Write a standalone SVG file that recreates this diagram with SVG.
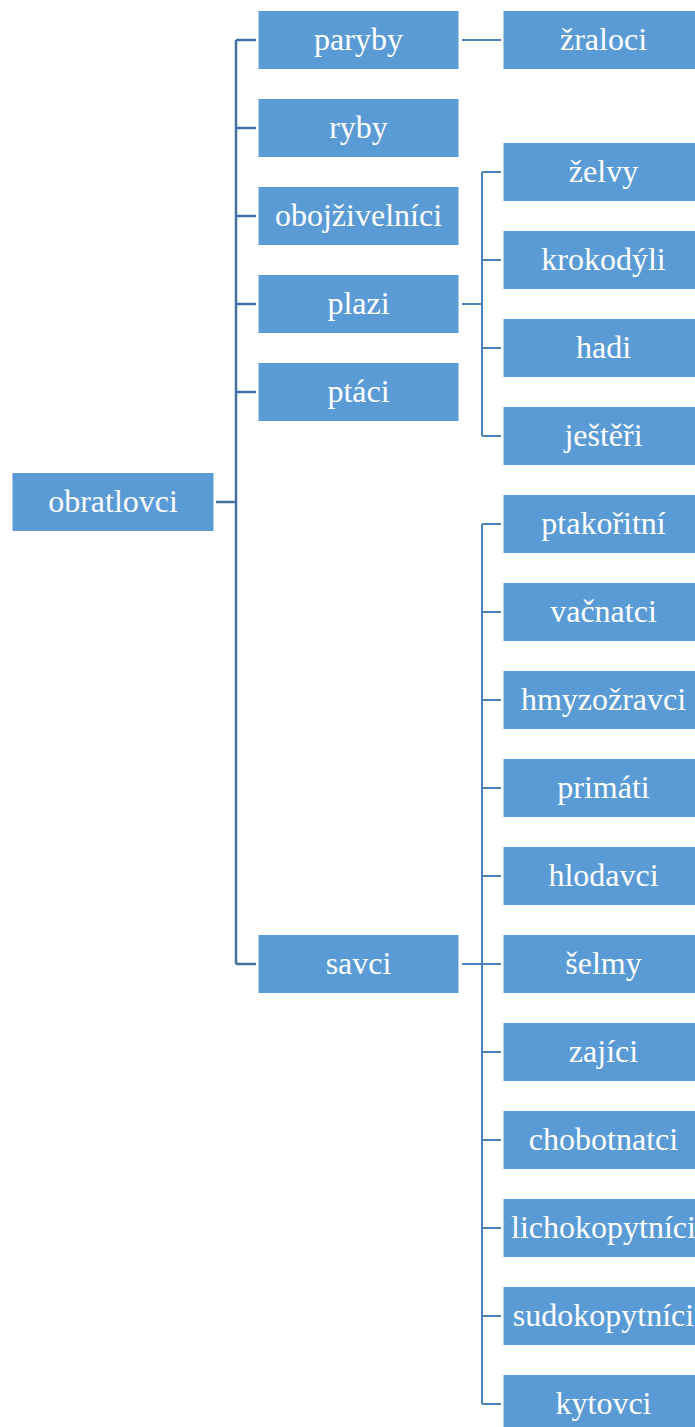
<svg xmlns="http://www.w3.org/2000/svg" width="695" height="1427" viewBox="0 0 695 1427">
<style>
.b{fill:#5B9BD5;stroke:#ffffff;stroke-width:1}
.t{fill:#ffffff;font-size:32px;text-anchor:middle}
.c1{fill:none;stroke:#41719C;stroke-width:2.5}
.c2{fill:none;stroke:#4A82BE;stroke-width:2}
</style>
<rect width="695" height="1427" fill="#ffffff"/>
<g id="connectors">
<path class="c1" d="M216 502H236M236 40V964M236 40H256M236 128H256M236 216H256M236 304H256M236 392H256M236 964H256"/>
<path class="c2" d="M462 40H501"/>
<path class="c2" d="M462 304H482M482 172V436M482 172H501M482 260H501M482 348H501M482 436H501"/>
<path class="c2" d="M462 964H482M482 524V1404M482 524H501M482 612H501M482 700H501M482 788H501M482 876H501M482 964H501M482 1052H501M482 1140H501M482 1228H501M482 1316H501M482 1404H501"/>
</g>
<g id="nodes" style="font-family:'Liberation Serif',serif">
<g id="obratlovci"><rect class="b" x="12" y="472.5" width="202" height="59"/><text class="t" x="113" y="512">obratlovci</text></g>
<g id="paryby"><rect class="b" x="258" y="10.5" width="201" height="59"/><text class="t" x="358.5" y="50">paryby</text></g>
<g id="ryby"><rect class="b" x="258" y="98.5" width="201" height="59"/><text class="t" x="358.5" y="138">ryby</text></g>
<g id="obojzivelnici"><rect class="b" x="258" y="186.5" width="201" height="59"/><text class="t" x="358.5" y="226">obojživelníci</text></g>
<g id="plazi"><rect class="b" x="258" y="274.5" width="201" height="59"/><text class="t" x="358.5" y="314">plazi</text></g>
<g id="ptaci"><rect class="b" x="258" y="362.5" width="201" height="59"/><text class="t" x="358.5" y="402">ptáci</text></g>
<g id="savci"><rect class="b" x="258" y="934.5" width="201" height="59"/><text class="t" x="358.5" y="974">savci</text></g>
<g id="zraloci"><rect class="b" x="503" y="10.5" width="201" height="59"/><text class="t" x="603.5" y="50">žraloci</text></g>
<g id="zelvy"><rect class="b" x="503" y="142.5" width="201" height="59"/><text class="t" x="603.5" y="182">želvy</text></g>
<g id="krokodyli"><rect class="b" x="503" y="230.5" width="201" height="59"/><text class="t" x="603.5" y="270">krokodýli</text></g>
<g id="hadi"><rect class="b" x="503" y="318.5" width="201" height="59"/><text class="t" x="603.5" y="358">hadi</text></g>
<g id="jesteri"><rect class="b" x="503" y="406.5" width="201" height="59"/><text class="t" x="603.5" y="446">ještěři</text></g>
<g id="ptakoritni"><rect class="b" x="503" y="494.5" width="201" height="59"/><text class="t" x="603.5" y="534">ptakořitní</text></g>
<g id="vacnatci"><rect class="b" x="503" y="582.5" width="201" height="59"/><text class="t" x="603.5" y="622">vačnatci</text></g>
<g id="hmyzozravci"><rect class="b" x="503" y="670.5" width="201" height="59"/><text class="t" x="603.5" y="710">hmyzožravci</text></g>
<g id="primati"><rect class="b" x="503" y="758.5" width="201" height="59"/><text class="t" x="603.5" y="798">primáti</text></g>
<g id="hlodavci"><rect class="b" x="503" y="846.5" width="201" height="59"/><text class="t" x="603.5" y="886">hlodavci</text></g>
<g id="selmy"><rect class="b" x="503" y="934.5" width="201" height="59"/><text class="t" x="603.5" y="974">šelmy</text></g>
<g id="zajici"><rect class="b" x="503" y="1022.5" width="201" height="59"/><text class="t" x="603.5" y="1062">zajíci</text></g>
<g id="chobotnatci"><rect class="b" x="503" y="1110.5" width="201" height="59"/><text class="t" x="603.5" y="1150">chobotnatci</text></g>
<g id="lichokopytnici"><rect class="b" x="503" y="1198.5" width="201" height="59"/><text class="t" x="603.5" y="1238">lichokopytníci</text></g>
<g id="sudokopytnici"><rect class="b" x="503" y="1286.5" width="201" height="59"/><text class="t" x="603.5" y="1326">sudokopytníci</text></g>
<g id="kytovci"><rect class="b" x="503" y="1374.5" width="201" height="59"/><text class="t" x="603.5" y="1414">kytovci</text></g>
</g>
</svg>
